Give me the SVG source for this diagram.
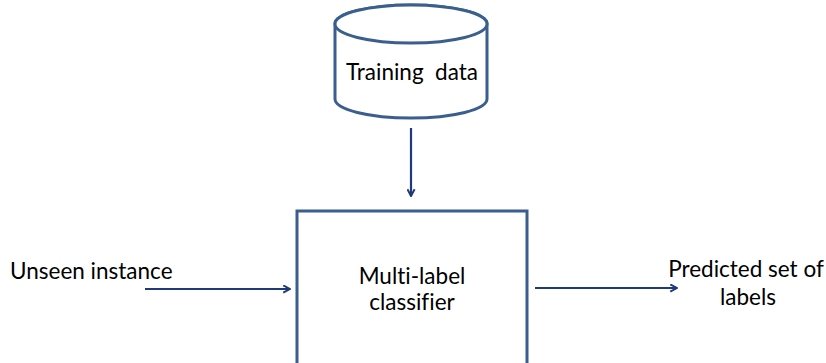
<svg xmlns="http://www.w3.org/2000/svg" width="826" height="363" viewBox="0 0 826 363">
  <style>
    .shape { fill: #ffffff; stroke: #3a5f8f; stroke-width: 3; }
    .edge { fill: none; stroke: #1f3a78; stroke-width: 2.2; marker-end: url(#head); }
    text { font-family: Lato, "Open Sans", "Liberation Sans", sans-serif; font-size: 22.5px; fill: #000000; font-variant-ligatures: none; }
  </style>
  <defs>
    <marker id="head" viewBox="0 0 10 10" refX="9" refY="5" markerWidth="9" markerHeight="9" orient="auto" markerUnits="userSpaceOnUse">
      <path d="M1.5,1 L9,5 L1.5,9" fill="none" stroke="#1f3a78" stroke-width="2.2"/>
    </marker>
  </defs>

  <g id="training-data">
    <path class="shape" d="M335,24 L335,99 A76,19 0 0 0 487,99 L487,24 A76,19 0 0 0 335,24 Z"/>
    <ellipse class="shape" cx="411" cy="24" rx="76" ry="19"/>
    <text x="412" y="80" text-anchor="middle" xml:space="preserve">Training  data</text>
  </g>

  <g id="classifier">
    <rect class="shape" x="297" y="211" width="230" height="160"/>
    <text x="412" y="284" text-anchor="middle">Multi-label</text>
    <text x="412" y="310" text-anchor="middle">classifier</text>
  </g>

  <g id="unseen-instance">
    <text x="10" y="279">Unseen instance</text>
  </g>

  <g id="predicted-labels">
    <text x="746" y="277" text-anchor="middle">Predicted set of</text>
    <text x="748" y="305" text-anchor="middle">labels</text>
  </g>

  <g id="connectors">
    <line class="edge" x1="411" y1="128" x2="411" y2="196"/>
    <line class="edge" x1="145" y1="289" x2="290" y2="289"/>
    <line class="edge" x1="535" y1="288" x2="677" y2="288"/>
  </g>
</svg>
